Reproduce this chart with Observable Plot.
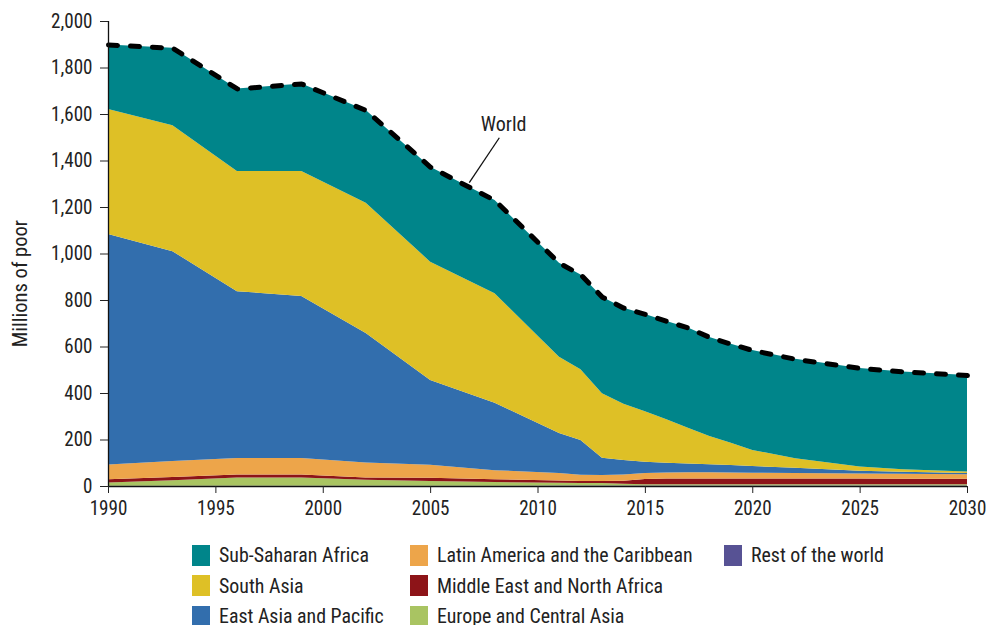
<!DOCTYPE html>
<html>
<head>
<meta charset="utf-8">
<script src="https://cdn.jsdelivr.net/npm/d3@7"></script>
<script src="https://cdn.jsdelivr.net/npm/@observablehq/plot@0.6"></script>
<style>
  html, body { margin: 0; padding: 0; background: #fff; }
  body { width: 987px; height: 625px; overflow: hidden; position: relative; color: #222; }
  #chart { position: absolute; left: 0; top: 0; }
  #legend { position: absolute; left: 192px; top: 540px; display: grid;
            grid-template-columns: 218px 314px auto; grid-template-rows: 30.5px 30.5px 30.5px;
            grid-auto-flow: column; }
  .item { display: flex; align-items: center; white-space: nowrap; }
  .sw { width: 18px; height: 21px; margin-right: 9px; flex: none; }
  .lt { display: inline-block; transform-origin: left center; }
</style>
</head>
<body>
<div id="chart"></div>
<div id="legend"></div>
<script>
// Years and regional poverty headcounts (millions)
const years = [1990,1993,1996,1999,2002,2005,2008,2011,2012,2013,2014,2015,2016,2017,2018,2019,2020,2022,2025,2027,2030];
const restOfWorld = [1,1,1,1,1,1,1,2,2,2,2,2,2,2,2,2,2,2,2,2,2];
const europeCentralAsia = [14,24,36,36,26,21,16,12,11,11,8,6,6,6,6,6,6,6,5,5,5];
const middleEastNorthAfrica = [14,14,13,13,10,14,12,10,8,8,13,22,24,24,24,24,24,24,25,24,24];
const latinAmericaCaribbean = [63,68,70,70,64,55,39,32,27,26,27,26,26,27,27,26,25,24,22,22,20];
const eastAsiaPacific = [992,903,718,697,557,365,290,172,150,75,62,48,42,38,35,32,29,22,12,8,5];
const southAsia = [537,542,517,538,560,509,471,328,304,277,242,218,187,154,121,96,69,41,18,11,6];
const subSaharanAfrica = [278,333,355,376,399,408,401,404,408,415,413,418,423,431,426,426,430,428,424,421,415];

// Series names (stack order bottom -> top) and colours
const seriesNames = ["Rest of the world","Europe and Central Asia","Middle East and North Africa","Latin America and the Caribbean","East Asia and Pacific","South Asia","Sub-Saharan Africa"];
const seriesValues = [restOfWorld, europeCentralAsia, middleEastNorthAfrica, latinAmericaCaribbean, eastAsiaPacific, southAsia, subSaharanAfrica];
const seriesColors = ["#575294","#a9c462","#8d1418","#eda54a","#326ead","#dec026","#00858a"];

// Legend order (column-wise)
const legendOrder = ["Sub-Saharan Africa","South Asia","East Asia and Pacific","Latin America and the Caribbean","Middle East and North Africa","Europe and Central Asia","Rest of the world"];

// Axis ticks and labels
const xTicks = [1990,1995,2000,2005,2010,2015,2020,2025,2030];
const yTicks = [0,200,400,600,800,1000,1200,1400,1600,1800,2000];
const yLabel = "Millions of poor";
const yLabelAt = 873;

// Annotation
const worldLabel = "World";
const worldLabelAt = [{year: 2008.4, value: 1557}];
const worldLeader = [{x1: 2008.2, y1: 1500, x2: 2006.8, y2: 1307}];

// ---- font selection: prefer a condensed sans; otherwise compress horizontally ----
const canvas = document.createElement("canvas");
const ctx = canvas.getContext("2d");
function width(font, size, s) { ctx.font = `${size}px ${font}`; return ctx.measureText(s).width; }
function available(name) {
  const s = "abcdefghijklmnopqrstuvwxyz 0123456789 WMQ";
  return width(`"${name}", monospace`, 40, s) !== width("monospace", 40, s) ||
         width(`"${name}", serif`, 40, s) !== width("serif", 40, s);
}
const candidates = ["Roboto Condensed","Noto Sans Condensed","Liberation Sans Narrow","Arial Narrow","Roboto","Liberation Sans","DejaVu Sans Condensed"];
const chosen = candidates.find(available) || "sans-serif";
const fontFam = `"${chosen}", sans-serif`;
const tickSize = 19.5, legendSize = 20.5, yLabelSize = 21;
const clamp = v => Math.max(0.6, Math.min(1.1, v));
const kAxis = clamp(37.7 / width(fontFam, tickSize, "1990"));
const kLegend = clamp(150 / width(fontFam, legendSize, "Sub-Saharan Africa"));

const table = [];
seriesNames.forEach((name, i) => {
  years.forEach((yr, j) => table.push({region: name, year: yr, value: seriesValues[i][j]}));
});
const world = years.map((yr, j) => ({year: yr, value: d3.sum(seriesValues, s => s[j])}));

const chart = Plot.plot({
  width: 987,
  height: 530,
  marginLeft: 108,
  marginRight: 20,
  marginTop: 21,
  marginBottom: 44,
  style: {fontFamily: fontFam, fontSize: tickSize + "px", color: "#222", background: "#fff"},
  x: {domain: [1990, 2030]},
  y: {domain: [0, 2000]},
  color: {domain: seriesNames, range: seriesColors},
  marks: [
    Plot.areaY(table, {x: "year", y: "value", z: "region", fill: "region", order: null}),
    Plot.lineY(world, {x: "year", y: "value", stroke: "#000", strokeWidth: 5, strokeDasharray: "9,13", strokeLinecap: "round", strokeLinejoin: "round"}),
    Plot.link(worldLeader, {x1: "x1", y1: "y1", x2: "x2", y2: "y2", stroke: "#111", strokeWidth: 1.3}),
    Plot.text(worldLabelAt, {x: "year", y: "value", text: () => worldLabel, fontSize: legendSize, fill: "#222"}),
    Plot.ruleX([1990], {stroke: "#111", strokeWidth: 1.3}),
    Plot.ruleY([0], {stroke: "#111", strokeWidth: 1.3}),
    Plot.axisX({ticks: xTicks, tickFormat: d => String(d), tickSize: 7, tickPadding: 8, label: null, fontSize: tickSize}),
    Plot.axisY({ticks: yTicks, tickFormat: d3.format(","), tickSize: 8, tickPadding: 8, label: null, fontSize: tickSize}),
    Plot.text([yLabel], {frameAnchor: "left", y: () => yLabelAt, text: d => d, rotate: -90, dx: -88, textAnchor: "middle", lineAnchor: "middle", fontSize: yLabelSize, fill: "#222"})
  ]
});
document.getElementById("chart").appendChild(chart);

// compress all SVG texts horizontally around their anchor
chart.querySelectorAll("text").forEach(t => {
  const x = +(t.getAttribute("x") || 0);
  const tr = t.getAttribute("transform") || "";
  t.setAttribute("transform", `${tr} translate(${x},0) scale(${kAxis},1) translate(${-x},0)`.trim());
});

const legend = document.getElementById("legend");
legend.style.fontFamily = fontFam;
legend.style.fontSize = legendSize + "px";
legendOrder.forEach(name => {
  const it = document.createElement("div");
  it.className = "item";
  const sw = document.createElement("span");
  sw.className = "sw";
  sw.style.background = seriesColors[seriesNames.indexOf(name)];
  const tx = document.createElement("span");
  tx.className = "lt";
  tx.textContent = name;
  tx.style.transform = `scaleX(${kLegend})`;
  it.appendChild(sw); it.appendChild(tx);
  legend.appendChild(it);
});
</script>
</body>
</html>
